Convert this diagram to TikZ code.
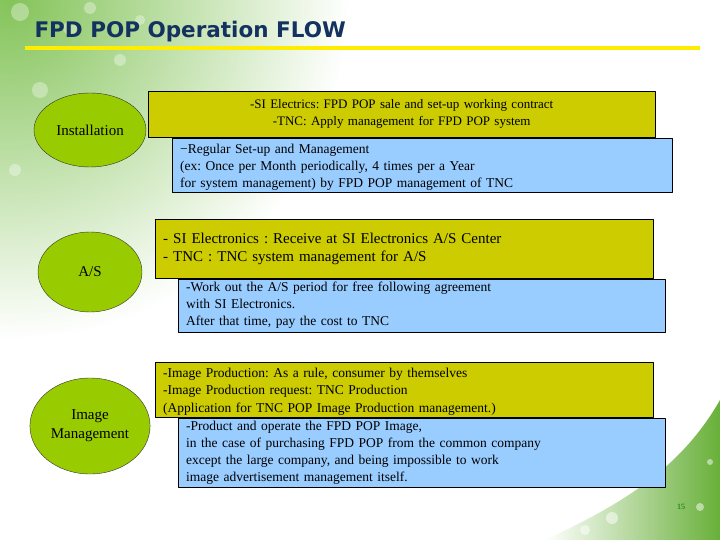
\documentclass[tikz,border=0pt]{standalone}
\usepackage{fontspec}
\setmainfont{Liberation Serif}
\newfontfamily\titlefont{DejaVu Sans}
\usetikzlibrary{shapes.geometric}
\definecolor{ovgreen}{RGB}{153,204,0}
\definecolor{boxyel}{RGB}{204,204,0}
\definecolor{boxblue}{RGB}{153,204,255}
\definecolor{titleblue}{RGB}{20,50,96}
\definecolor{leafgreen}{RGB}{110,185,60}
\tikzset{ov/.style={ellipse,draw=black!80,fill=ovgreen,align=center,font=\fontsize{15}{19}\selectfont}}
\tikzset{yl/.style={rectangle,draw=black,fill=boxyel,anchor=north west,inner xsep=8pt,inner ysep=0pt}}
\tikzset{bl/.style={rectangle,draw=black,fill=boxblue,anchor=north west,inner xsep=8pt,inner ysep=0pt,align=left}}

\begin{document}
\frenchspacing
\begin{tikzpicture}[x=1pt,y=-1pt,line join=round]
            \useasboundingbox (0,0) rectangle (720,540);
            \fill[white] (0,0) rectangle (720,540);
            \begin{scope}
              \clip (0,0) rectangle (720,540);
              \shade[inner color=leafgreen!85,outer color=white] (10,0) circle (340);
              \shade[left color=white,right color=leafgreen!95!black] (545,540) .. controls (620,505) and (680,470) .. (720,400) -- (720,540) -- cycle;
              \fill[white,opacity=0.35] (20,12) circle (9) (70,28) circle (7) (120,60) circle (6)
                (40,90) circle (8) (15,170) circle (6) (140,20) circle (5) (90,8) circle (6);
              \fill[white,opacity=0.5] (612,518) circle (6) (700,507) circle (4) (585,530) circle (5) (710,462) circle (3);
            \end{scope}
            \node[anchor=base west,text=titleblue,font=\titlefont\bfseries\fontsize{21.5}{21.5}\selectfont] (T) at (31,38) {FPD POP Operation FLOW};
            \draw[line width=4pt,yellow!95!orange] (25,48.5) -- (700,48.5);
            % Installation
            \node[ov,minimum width=112,minimum height=74] (A) at (90,130) {Installation};
            \node[yl,minimum height=46,text width=491,align=center,font=\fontsize{13}{17}\selectfont] (B) at (148,91)
              {-SI Electrics: FPD POP sale and set-up working contract\\-TNC: Apply management for FPD POP system};
            \node[bl,minimum height=54,text width=484,inner xsep=8pt,font=\fontsize{13.5}{17}\selectfont] (C) at (172,138)
              {\rule{0pt}{14pt}−Regular Set-up and Management\\(ex: Once per Month periodically, 4 times per a Year\\for system management) by FPD POP management of TNC};
            % A/S
            \node[ov,minimum width=104,minimum height=80] (D) at (90,272) {A/S};
            \node[yl,minimum height=59,text width=482,align=left,font=\fontsize{15}{18}\selectfont] (E) at (155,219)
              {- SI Electronics : Receive at SI Electronics A/S Center\\- TNC : TNC system management for A/S};
            \node[bl,minimum height=53,text width=471,font=\fontsize{13.5}{17}\selectfont] (F) at (178,279)
              {-Work out the A/S period for free following agreement\\with SI Electronics.\\After that time, pay the cost to TNC};
            % Image Management
            \node[ov,minimum width=116,minimum height=96] (G) at (90,426) {Image\\Management};
            \node[yl,minimum height=55,text width=482,align=left,font=\fontsize{13.5}{17.5}\selectfont] (H) at (155,362)
              {\rule{0pt}{13pt}-Image Production: As a rule, consumer by themselves\\-Image Production request: TNC Production\\(Application for TNC POP Image Production management.)};
            \node[bl,minimum height=69,text width=471,font=\fontsize{13.5}{16.8}\selectfont] (I) at (178,418)
              {-Product and operate the FPD POP Image,\\in the case of purchasing FPD POP from the common company\\except the large company, and being impossible to work\\image advertisement management itself.};
            \node[text=green!45!black,font=\fontsize{8}{8}\selectfont] (P) at (681,507) {15};
          \end{tikzpicture}
\end{document}
